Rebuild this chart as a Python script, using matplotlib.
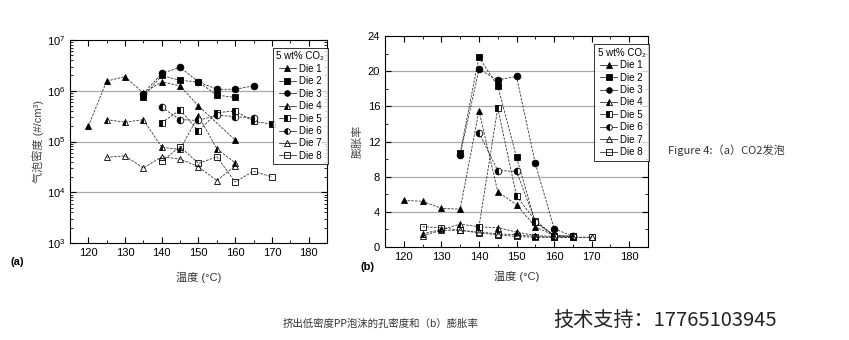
import matplotlib.pyplot as plt
from matplotlib.ticker import MultipleLocator, LogLocator, NullFormatter

plt.rcParams['font.family'] = ['Liberation Sans', 'Noto Sans CJK SC', 'DejaVu Sans']

dies = ['Die 1', 'Die 2', 'Die 3', 'Die 4', 'Die 5', 'Die 6', 'Die 7', 'Die 8']
legend_title = '5 wt% CO₂'

# (a) cell density, #/cm3
dens_t = {
    'Die 1': [120, 125, 130, 135, 140, 145, 150, 160],
    'Die 2': [135, 140, 145, 150, 155, 160],
    'Die 3': [135, 140, 145, 150, 155, 160, 165],
    'Die 4': [125, 130, 135, 140, 145, 150, 155, 160],
    'Die 5': [140, 145, 150, 155, 160, 165, 170],
    'Die 6': [140, 145, 150, 155, 160, 165],
    'Die 7': [125, 130, 135, 140, 145, 150, 155, 160],
    'Die 8': [140, 145, 150, 155, 160, 165, 170],
}
dens_v = {
    'Die 1': [2.0e5, 1.55e6, 1.9e6, 9.0e5, 1.5e6, 1.25e6, 5.0e5, 1.07e5],
    'Die 2': [7.6e5, 2.0e6, 1.6e6, 1.5e6, 8.2e5, 7.4e5],
    'Die 3': [8.8e5, 2.2e6, 2.9e6, 1.5e6, 1.07e6, 1.07e6, 1.25e6],
    'Die 4': [2.7e5, 2.4e5, 2.7e5, 7.7e4, 7.0e4, 3.2e5, 7.2e4, 3.8e4],
    'Die 5': [2.35e5, 4.2e5, 1.6e5, 3.7e5, 4.0e5, 2.5e5, 2.2e5],
    'Die 6': [4.7e5, 2.7e5, 2.6e5, 3.3e5, 3.1e5, 2.9e5],
    'Die 7': [4.9e4, 5.2e4, 3.0e4, 5.0e4, 4.5e4, 3.2e4, 1.7e4, 3.3e4],
    'Die 8': [4.1e4, 7.9e4, 3.7e4, 5.0e4, 1.6e4, 2.6e4, 2.0e4],
}

# (b) expansion ratio
exp_t = {
    'Die 1': [120, 125, 130, 135, 140, 145, 150, 155, 160],
    'Die 2': [135, 140, 145, 150, 155, 160, 165],
    'Die 3': [135, 140, 145, 150, 155, 160, 165],
    'Die 4': [125, 130, 135, 140, 145, 150, 155, 160, 165],
    'Die 5': [140, 145, 150, 155, 160, 165],
    'Die 6': [140, 145, 150, 155, 160, 165],
    'Die 7': [125, 130, 135, 140, 145, 150, 155, 160, 165, 170],
    'Die 8': [125, 130, 135, 140, 145, 150, 155, 160, 165, 170],
}
exp_v = {
    'Die 1': [5.3, 5.2, 4.4, 4.3, 15.5, 6.3, 4.8, 2.3, 1.3],
    'Die 2': [10.7, 21.6, 18.3, 10.2, 2.8, 1.3, 1.2],
    'Die 3': [10.5, 20.2, 19.0, 19.4, 9.5, 2.1, 1.2],
    'Die 4': [1.5, 2.0, 2.6, 2.3, 2.2, 1.7, 1.3, 1.2, 1.2],
    'Die 5': [2.3, 15.8, 5.8, 3.0, 1.3, 1.2],
    'Die 6': [13.0, 8.7, 8.6, 2.9, 1.3, 1.2],
    'Die 7': [1.3, 1.9, 1.9, 1.7, 1.5, 1.4, 1.2, 1.1, 1.1, 1.1],
    'Die 8': [2.3, 2.2, 1.9, 1.6, 1.4, 1.2, 1.1, 1.1, 1.1, 1.1],
}

styles = {
    'Die 1': dict(marker='^', fillstyle='full'),
    'Die 2': dict(marker='s', fillstyle='full'),
    'Die 3': dict(marker='o', fillstyle='full'),
    'Die 4': dict(marker='^', fillstyle='left'),
    'Die 5': dict(marker='s', fillstyle='left'),
    'Die 6': dict(marker='o', fillstyle='left'),
    'Die 7': dict(marker='^', fillstyle='none'),
    'Die 8': dict(marker='s', fillstyle='none'),
}


def draw(ax, tt, vv):
    for d in dies:
        ax.plot(tt[d], vv[d], color='#333333', lw=0.6, ls=(0, (3, 1.5)),
                markersize=4.8, markeredgecolor='black', markerfacecolor='black',
                markerfacecoloralt='white', markeredgewidth=0.6, label=d, **styles[d])
    ax.set_xlim(115, 185)
    ax.xaxis.set_major_locator(MultipleLocator(10))
    ax.xaxis.set_minor_locator(MultipleLocator(5))
    ax.tick_params(which='both', direction='in', top=True, right=True, labelsize=8)
    ax.tick_params(which='major', length=4)
    ax.tick_params(which='minor', length=2)
    for s in ax.spines.values():
        s.set_linewidth(0.8)
    leg = ax.legend(title=legend_title, loc='upper right', bbox_to_anchor=(1.01, 0.97),
                    fontsize=7, title_fontsize=7, frameon=True, fancybox=False,
                    edgecolor='black', handlelength=1.8, handletextpad=0.3,
                    labelspacing=0.25, borderpad=0.35, borderaxespad=0.2, markerscale=0.85)
    leg.get_frame().set_linewidth(0.7)
    for line in leg.get_lines():
        line.set_linestyle('-')
    return leg


fig = plt.figure(figsize=(8.49, 3.4), dpi=100)

ax1 = fig.add_axes([0.0824, 0.2853, 0.3027, 0.597])
ax1.set_yscale('log')
ax1.set_ylim(1e3, 1e7)
ax1.yaxis.set_major_locator(LogLocator(base=10, numticks=10))
ax1.yaxis.set_minor_locator(LogLocator(base=10, subs=range(2, 10), numticks=10))
ax1.yaxis.set_minor_formatter(NullFormatter())
for yv in [1e4, 1e5, 1e6]:
    ax1.axhline(yv, color='#aaaaaa', lw=0.9, zorder=0)
draw(ax1, dens_t, dens_v)
ax1.set_ylabel('气泡密度 (#/cm³)', fontsize=8, color='#444444', labelpad=2)
ax1.set_xlabel('温度 (°C)', fontsize=8, color='#333333', labelpad=10)

ax2 = fig.add_axes([0.4535, 0.2735, 0.3098, 0.6206])
ax2.set_ylim(0, 24)
ax2.yaxis.set_major_locator(MultipleLocator(4))
ax2.yaxis.set_minor_locator(MultipleLocator(2))
for yv in [4, 8, 12, 16, 20]:
    ax2.axhline(yv, color='#aaaaaa', lw=0.9, zorder=0)
draw(ax2, exp_t, exp_v)
ax2.set_ylabel('膨胀率', fontsize=8, color='#444444', labelpad=4)
ax2.set_xlabel('温度 (°C)', fontsize=8, color='#333333', labelpad=6)

fig.text(0.012, 0.222, '(a)', fontsize=8, fontweight='bold')
fig.text(0.425, 0.205, '(b)', fontsize=8, fontweight='bold')

fig.text(0.787, 0.548, 'Figure 4:（a）CO2发泡', fontsize=8, color='#333333',
         family=['Noto Sans CJK SC', 'DejaVu Sans'])
fig.text(0.333, 0.038, '挤出低密度PP泡沫的孔密度和（b）膨胀率', fontsize=7.5, color='#333333',
         family=['Noto Sans CJK SC', 'DejaVu Sans'])
fig.text(0.652, 0.04, '技术支持：17765103945', fontsize=14.5, color='#222222',
         family=['Noto Sans CJK SC', 'DejaVu Sans'])

fig.savefig('out.png', dpi=100)
